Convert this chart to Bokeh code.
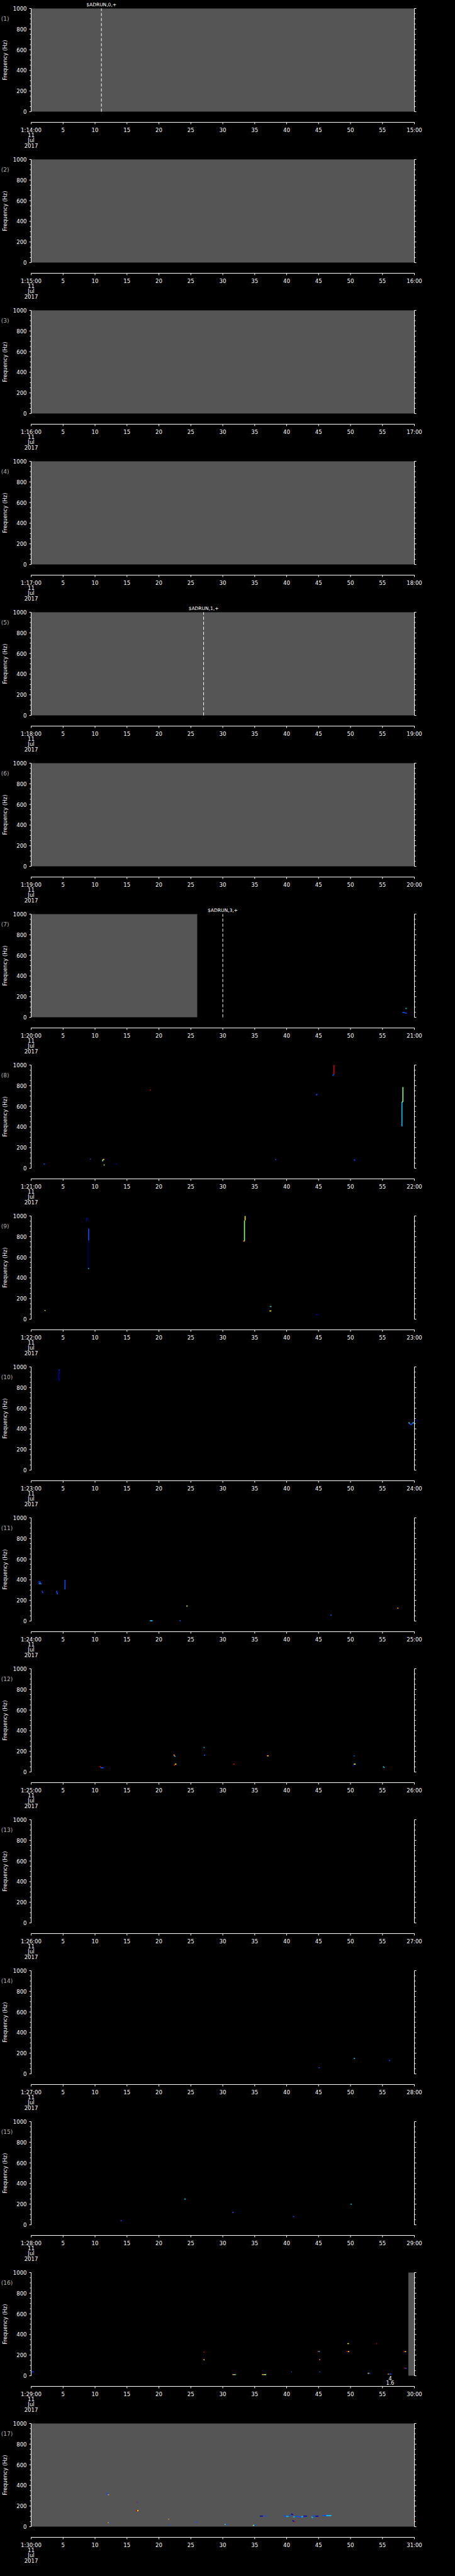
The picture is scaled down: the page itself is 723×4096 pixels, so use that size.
import math
from bokeh.plotting import figure
from bokeh.models import Range1d, ColumnDataSource
from bokeh.core.properties import value
from bokeh.layouts import column
from bokeh.embed import file_html
from bokeh.resources import INLINE

# ---------------- data ----------------
N_PANELS = 17
START_MINUTE = [13 + k for k in range(1, N_PANELS + 1)]   # 1:14:00 ... 1:30:00
X_TICKS = list(range(0, 61, 5))
Y_TICKS = list(range(0, 1001, 200))
Y_MINOR = [f for f in range(0, 1001, 50) if f % 200]
DATE_LINES = ["11", "Jul", "2017"]

# grey (no data) spans per panel, seconds
GRAY_SPANS = {1: [(0, 60)], 2: [(0, 60)], 3: [(0, 60)], 4: [(0, 60)], 5: [(0, 60)],
              6: [(0, 60)], 7: [(0, 26.0)], 16: [(59.05, 60)], 17: [(0, 60)]}

# event markers: panel -> (second, text)
ADRUN = {1: (11.0, "$ADRUN,0,+"), 5: (27.0, "$ADRUN,1,+"), 7: (30.0, "$ADRUN,3,+")}

DB, B, C, G, Y, O, R, NV = "#0000c0", "#0050ff", "#00c8ff", "#80ff80", "#f0f000", "#ff9000", "#e00000", "#000060"

# spectral traces: (t0, t1, f0, f1, colour)
P7 = [(58.6, 58.8, 86, 86, C), (58.1, 58.5, 47, 47, B), (58.5, 58.8, 43, 39, B)]
P8 = [(1.95, 2.15, 42, 42, B), (9.2, 9.35, 89, 89, B), (11.2, 11.2, 67, 85, G),
      (11.25, 11.45, 85, 85, Y), (11.35, 11.5, 32, 32, Y), (13.3, 13.45, 42, 42, DB),
      (18.6, 18.75, 760, 756, R), (38.2, 38.35, 85, 85, B), (50.5, 50.75, 80, 80, B),
      (44.6, 44.8, 707, 719, B), (47.2, 47.4, 897, 911, B), (47.4, 47.4, 911, 1000, R),
      (58.05, 58.05, 406, 643, C), (58.05, 58.2, 643, 643, G), (58.2, 58.2, 643, 786, G)]
P9 = [(2.1, 2.25, 84, 84, Y), (8.7, 8.7, 951, 977, DB), (8.7, 8.9, 977, 977, DB),
      (8.95, 8.95, 492, 763, NV), (9.0, 9.0, 763, 878, B), (8.9, 9.05, 492, 492, C),
      (33.4, 33.4, 757, 957, G), (33.5, 33.5, 957, 1000, Y), (33.2, 33.4, 757, 757, O),
      (37.3, 37.45, 123, 123, B), (37.45, 37.6, 123, 123, G), (37.3, 37.6, 80, 80, Y),
      (44.6, 44.85, 46, 46, DB)]
P10 = [(4.35, 4.35, 865, 973, DB), (4.35, 4.45, 973, 973, B),
       (59.1, 59.25, 464, 450, C), (59.25, 59.45, 450, 438, B), (59.45, 59.7, 438, 455, B),
       (59.7, 59.95, 455, 462, C), (59.9, 60.3, 462, 490, DB)]
P11 = [(1.1, 1.5, 378, 378, B), (1.2, 1.6, 362, 362, C), (1.4, 1.4, 355, 378, B),
       (1.7, 1.85, 293, 270, B), (4.0, 4.05, 293, 265, B), (4.05, 4.2, 265, 265, B),
       (5.3, 5.3, 307, 400, B), (24.3, 24.5, 146, 146, Y), (18.6, 19.0, 3, 3, C),
       (23.2, 23.4, 3, 3, B), (46.85, 47.05, 55, 60, B), (57.3, 57.5, 125, 125, O)]
P12 = [(10.8, 10.9, 59, 42, R), (10.9, 11.35, 41, 41, B), (22.35, 22.4, 170, 155, O),
       (22.4, 22.6, 153, 153, C), (22.5, 22.75, 76, 76, Y), (22.45, 22.45, 59, 76, R),
       (27.0, 27.15, 239, 235, C), (27.1, 27.2, 156, 170, B), (31.6, 31.85, 76, 76, R),
       (36.9, 37.2, 157, 157, O), (50.5, 50.7, 156, 156, B), (50.4, 50.5, 54, 76, DB),
       (50.5, 50.8, 76, 76, Y), (55.1, 55.3, 54, 41, C)]
P13 = []
P14 = [(45.0, 45.2, 60, 60, B), (50.5, 50.7, 150, 150, C), (56.0, 56.2, 130, 130, B)]
P15 = [(14.0, 14.2, 40, 40, B), (24.0, 24.2, 250, 250, C), (31.5, 31.7, 120, 120, B),
       (41.0, 41.2, 80, 80, B), (50.0, 50.2, 200, 200, C)]
P16 = [(0.0, 0.4, 37, 37, B), (27.0, 27.15, 230, 230, R), (26.9, 27.0, 160, 160, R),
       (27.0, 27.15, 155, 155, G), (31.5, 31.7, 11, 11, O), (31.7, 31.9, 11, 11, Y),
       (31.9, 32.1, 11, 11, C), (36.1, 36.4, 11, 11, O), (36.4, 36.8, 11, 11, G),
       (40.7, 40.85, 37, 37, B), (44.8, 45.0, 237, 237, R), (45.0, 45.2, 235, 235, C),
       (45.1, 45.25, 157, 157, O), (45.1, 45.25, 37, 37, B), (49.4, 49.6, 234, 234, R),
       (49.6, 49.8, 234, 234, Y), (49.5, 49.75, 311, 311, Y), (54.0, 54.15, 311, 311, R),
       (52.7, 52.85, 24, 24, Y), (52.85, 53.1, 24, 24, B), (55.8, 56.0, 16, 16, O),
       (56.0, 56.4, 16, 16, B), (58.3, 58.5, 234, 234, R), (58.5, 58.7, 234, 234, Y),
       (58.4, 58.6, 74, 74, R), (58.6, 58.8, 74, 70, B)]
P17 = [(11.9, 11.9, 329, 304, B), (12.0, 12.2, 310, 310, O), (12.0, 12.2, 39, 39, O),
       (12.2, 12.4, 39, 39, B), (16.5, 16.65, 237, 237, R), (16.65, 16.8, 237, 237, B),
       (16.4, 16.6, 155, 155, R), (16.6, 16.8, 155, 155, Y), (21.45, 21.6, 72, 72, O),
       (21.55, 21.7, 17, 17, B), (25.9, 25.9, 37, 53, B), (30.3, 30.45, 22, 22, G),
       (30.45, 30.7, 22, 22, B), (34.7, 34.95, 13, 13, G), (34.95, 35.2, 13, 13, B),
       (35.8, 36.3, 103, 103, DB), (36.5, 36.8, 105, 105, B),
       (39.5, 39.9, 108, 100, B), (39.9, 40.3, 100, 98, C), (40.3, 40.7, 106, 110, B),
       (40.7, 41.0, 125, 115, DB), (41.0, 41.3, 95, 95, C), (41.3, 41.8, 100, 103, B),
       (41.8, 42.3, 95, 95, B), (42.3, 42.6, 96, 100, C), (42.6, 43.2, 103, 103, DB),
       (43.9, 44.1, 96, 85, C), (44.1, 44.5, 105, 105, B), (44.5, 45.0, 100, 103, DB),
       (45.6, 46.2, 108, 108, B), (46.2, 47.0, 108, 108, C),
       (40.9, 41.2, 60, 50, DB), (41.2, 41.4, 50, 46, R), (59.85, 60.0, 65, 65, R)]
TRACES = {7: P7, 8: P8, 9: P9, 10: P10, 11: P11, 12: P12, 13: P13, 14: P14,
          15: P15, 16: P16, 17: P17}
NOTES = {16: (56.2, ["4", "1.6"])}

# ---------------- layout (pixels) ----------------
W, H = 707, 240          # one panel
PX_L, PX_R = 49, 658     # plot area left / right
PX_T, PH = 13, 164.1     # plot area top, height
AX_GAP = 16.9            # gap between plot bottom and time axis
S = 60.0 / (PX_R - PX_L)  # seconds per pixel
HZ = 1000.0 / PH          # Hz per pixel
FONT = "DejaVu Sans"
WHITE = "#ffffff"
FS = "8.5px"

figs = []
for k in range(1, N_PANELS + 1):
    m = START_MINUTE[k - 1]
    p = figure(width=W, height=H, title=None,
               x_range=Range1d(-PX_L * S, 60 + (W - PX_R) * S),
               y_range=Range1d(-(H - PX_T - PH) * HZ, 1000 + PX_T * HZ),
               output_backend="svg", toolbar_location=None,
               x_axis_type=None, y_axis_type=None,
               min_border_left=0, min_border_right=0, min_border_top=0,
               min_border_bottom=0, background_fill_color="#000000",
               border_fill_color="#000000", outline_line_color=None)
    p.xgrid.visible = False
    p.ygrid.visible = False

    for (a, b) in GRAY_SPANS.get(k, []):
        p.quad(left=a, right=b, bottom=0, top=1000, fill_color="#555555", line_color=None)

    tr = TRACES.get(k, [])
    if tr:
        src = ColumnDataSource(dict(x0=[t[0] for t in tr], x1=[t[1] for t in tr],
                                    y0=[t[2] for t in tr], y1=[t[3] for t in tr],
                                    c=[t[4] for t in tr]))
        p.segment(x0="x0", y0="y0", x1="x1", y1="y1", line_color="c", line_width=1.6,
                  source=src)

    # ---- axes (lines + ticks) ----
    ya = -AX_GAP * HZ
    x0, y0, x1, y1 = [], [], [], []
    for xe, sgn in ((0, -1), (60, 1)):
        x0.append(xe); y0.append(0); x1.append(xe); y1.append(1000)
        for f in Y_TICKS:
            x0.append(xe); y0.append(f); x1.append(xe + sgn * 3 * S); y1.append(f)
        for f in Y_MINOR:
            x0.append(xe); y0.append(f); x1.append(xe + sgn * 2 * S); y1.append(f)
    x0.append(0); y0.append(ya); x1.append(60); y1.append(ya)
    for t in X_TICKS:
        x0.append(t); y0.append(ya); x1.append(t); y1.append(ya - 3 * HZ)
    p.segment(x0=x0, y0=y0, x1=x1, y1=y1, line_color=WHITE, line_width=1)

    if k in ADRUN:
        t, txt = ADRUN[k]
        p.segment(x0=[t], y0=[0], x1=[t], y1=[1000], line_color=WHITE, line_width=1,
                  line_dash="5 3")
        p.text(x=[t], y=[1000 + 6.3 * HZ], text=[txt], text_color=WHITE,
               text_font=value(FONT), text_font_size=value("7.5px"),
               text_align="center", text_baseline="middle")

    # ---- tick labels ----
    p.text(x=[-7 * S] * len(Y_TICKS), y=Y_TICKS, text=[str(f) for f in Y_TICKS],
           text_color=WHITE, text_font=value(FONT), text_font_size=value(FS),
           text_align="right", text_baseline="middle")
    xl = [str(t) for t in X_TICKS]
    xl[0] = "1:%d:00" % m
    xl[-1] = "%d:00" % (m + 1)
    p.text(x=X_TICKS, y=[ya - 12 * HZ] * len(X_TICKS), text=xl, text_color=WHITE,
           text_font=value(FONT), text_font_size=value(FS), text_align="center",
           text_baseline="middle")
    p.text(x=[0] * len(DATE_LINES),
           y=[ya - (20.4 + 8.5 * i) * HZ for i in range(len(DATE_LINES))],
           text=DATE_LINES, text_color=WHITE, text_font=value(FONT),
           text_font_size=value(FS), text_align="center", text_baseline="middle")

    p.text(x=[-47.8 * S], y=[1000 - 16.6 * HZ], text=["(%d)" % k], text_color="#b4b4b4",
           text_font=value(FONT), text_font_size=value("9px"), text_align="left",
           text_baseline="middle")
    p.text(x=[-41.5 * S], y=[500], text=["Frequency (Hz)"], angle=math.pi / 2,
           text_color=WHITE, text_font=value(FONT), text_font_size=value(FS),
           text_align="center", text_baseline="middle")

    if k in NOTES:
        t, lines = NOTES[k]
        p.text(x=[t] * len(lines), y=[-(4.0 + 7.0 * i) * HZ for i in range(len(lines))],
               text=lines, text_color=WHITE, text_font=value(FONT),
               text_font_size=value("8px"), text_align="center", text_baseline="middle")
    figs.append(p)

layout = column(*figs, spacing=0)
html = file_html(layout, INLINE)
html = html.replace("<head>", "<head><style>html,body{background:#000000;}</style>", 1)
open("out.html", "w").write(html)
